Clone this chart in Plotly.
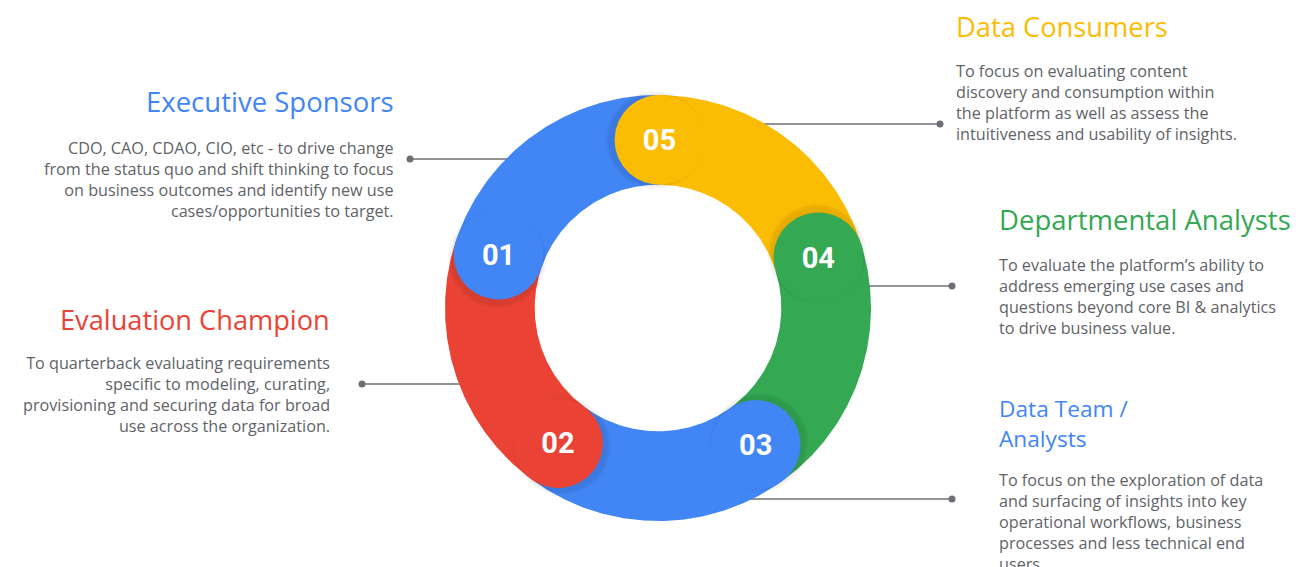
import numpy as np
import plotly.graph_objects as go

# ---------------- data ----------------
steps = ["01", "02", "03", "04", "05"]
titles = [["Executive Sponsors"], ["Evaluation Champion"], ["Data Team /", "Analysts"],
          ["Departmental Analysts"], ["Data Consumers"]]
descriptions = [
    ["CDO, CAO, CDAO, CIO, etc - to drive change",
     "from the status quo and shift thinking to focus",
     "on business outcomes and identify new use",
     "cases/opportunities to target."],
    ["To quarterback evaluating requirements",
     "specific to modeling, curating,",
     "provisioning and securing data for broad",
     "use across the organization."],
    ["To focus on the exploration of data",
     "and surfacing of insights into key",
     "operational workflows, business",
     "processes and less technical end",
     "users."],
    ["To evaluate the platform\u2019s ability to",
     "address emerging use cases and",
     "questions beyond core BI &amp; analytics",
     "to drive business value."],
    ["To focus on evaluating content",
     "discovery and consumption within",
     "the platform as well as assess the",
     "intuitiveness and usability of insights."],
]
shares = [1, 1, 1, 1, 1]

# ---------------- styles / layout ----------------
colors = ["#4285F4", "#EA4335", "#4285F4", "#34A853", "#FBBC04"]
W, H = 1301, 567
OFF = 8                    # page body margin compensation
CX, CY = 658, 308          # ring centre (px, y down)
R_OUT, R_IN = 213, 123.3
R_MID = (R_OUT + R_IN) / 2
HALF = (R_OUT - R_IN) / 2
START = 161.5              # angle of first cap (deg, CCW from +x)
TEXT_COL = "#5f6368"
LINE_COL = "#6d6f75"
FONT = "Open Sans"
BODY_SIZE = 16.2
PAD = 3

# label layout: (dot x, dot y, side, text x, title block centre y, body block centre y, title size)
label_layout = [
    (410, 159, "left", 393, 101, 179, 27.5),
    (362, 384, "left", 329, 319, 394.5, 27.2),
    (952, 499, "right", 1000, 423, 522, 22.7),
    (952, 286, "right", 1000, 219, 296, 27.5),
    (940, 124, "right", 957, 26, 102, 27.3),
]

total = sum(shares)
k = 360.0 / total
cum = np.cumsum(shares)
cap_ang = [START + (cum[i] - shares[0]) * k for i in range(len(shares))]


def pt(r, a_deg):
    a = np.radians(a_deg)
    return CX + r * np.cos(a), CY - r * np.sin(a)


fig = go.Figure()

# connector lines (under ring)
for (dx, dy, side, *_rest) in label_layout:
    reach = np.sqrt(max(R_MID**2 - (dy - CY) ** 2, 0))
    x_end = CX - reach if side == "left" else CX + reach
    fig.add_trace(go.Scatter(x=[dx, x_end], y=[dy, dy], mode="lines",
                             line=dict(color=LINE_COL, width=1.6),
                             hoverinfo="skip", showlegend=False))
    fig.add_trace(go.Scatter(x=[dx], y=[dy], mode="markers",
                             marker=dict(color=LINE_COL, size=7),
                             hoverinfo="skip", showlegend=False))

# ring bodies
for i, s in enumerate(shares):
    a1 = cap_ang[i] - s * k
    a2 = cap_ang[i]
    t = np.linspace(a1, a2, 120)
    xo, yo = pt(R_OUT, t)
    xi, yi = pt(R_IN, t[::-1])
    fig.add_trace(go.Scatter(x=np.concatenate([xo, xi, xo[:1]]),
                             y=np.concatenate([yo, yi, yo[:1]]),
                             mode="lines", fill="toself", fillcolor=colors[i],
                             line=dict(width=0), hoverinfo="skip", showlegend=False))

# caps with soft shadow
circ = np.radians(np.linspace(0, 360, 181))
for i, s in enumerate(shares):
    ccx, ccy = pt(R_MID, cap_ang[i])
    sx, sy = pt(R_MID, cap_ang[i] + 1.5)
    for extra in [4.5, 3, 1.5]:
        rr = HALF + extra
        fig.add_trace(go.Scatter(x=sx + rr * np.cos(circ), y=sy - rr * np.sin(circ),
                                 mode="lines", fill="toself",
                                 fillcolor="rgba(0,0,0,0.028)",
                                 line=dict(width=0), hoverinfo="skip", showlegend=False))
    fig.add_trace(go.Scatter(x=ccx + HALF * np.cos(circ), y=ccy - HALF * np.sin(circ),
                             mode="lines", fill="toself", fillcolor=colors[i],
                             line=dict(width=0), hoverinfo="skip", showlegend=False))

# step numbers
nx, ny = zip(*[pt(R_MID, a) for a in cap_ang])
fig.add_trace(go.Scatter(x=list(nx), y=[v + 3 for v in ny], mode="text", text=steps,
                         textposition="middle center",
                         textfont=dict(family="Roboto", size=29, color="white", weight="bold"),
                         hoverinfo="skip", showlegend=False))

# titles and descriptions
for i, (dx, dy, side, tx, ty, by, tsize) in enumerate(label_layout):
    anchor = "right" if side == "left" else "left"
    xa = tx + PAD if side == "left" else tx - PAD
    fig.add_annotation(x=xa, y=ty, text="<br>".join(titles[i]), showarrow=False,
                       xanchor=anchor, yanchor="middle", align=anchor,
                       font=dict(family=FONT, size=tsize, color=colors[i]))
    fig.add_annotation(x=xa, y=by, text="<br>".join(descriptions[i]), showarrow=False,
                       xanchor=anchor, yanchor="middle", align=anchor,
                       font=dict(family=FONT, size=BODY_SIZE, color=TEXT_COL))

fig.update_layout(
    width=W, height=H, margin=dict(l=0, r=0, t=0, b=0),
    paper_bgcolor="white", plot_bgcolor="white",
    xaxis=dict(range=[OFF, W + OFF], visible=False, fixedrange=True),
    yaxis=dict(range=[H + OFF, OFF], visible=False, fixedrange=True),
    showlegend=False,
)
fig.write_html("out.html")
